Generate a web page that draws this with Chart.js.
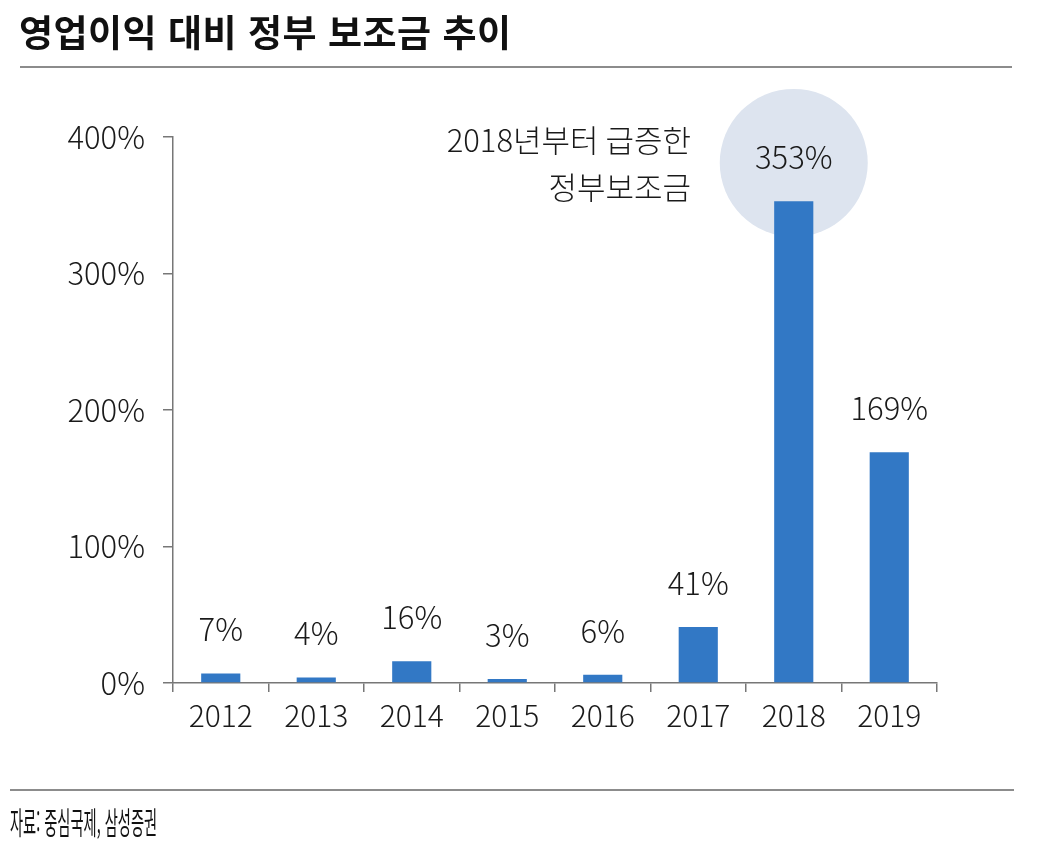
<!DOCTYPE html>
<html lang="ko">
<head>
<meta charset="utf-8">
<script src="https://cdn.jsdelivr.net/npm/chart.js@4"></script>
<style>
  body { margin:0; background:#fff; font-family:"Noto Sans CJK KR", sans-serif; }
  #wrap { position:relative; width:1042px; height:856px; overflow:hidden; }
  #chart { position:absolute; left:0; top:0; }
  .title { position:absolute; left:19px; top:4px; font-size:37px; font-weight:700; color:#111; letter-spacing:0.5px; }
  .rule { position:absolute; height:2px; background:#8c8c8c; }
  .src { position:absolute; left:10px; top:798px; font-size:31px; color:#111; transform:scaleX(0.46); transform-origin:left top; white-space:nowrap; }
</style>
</head>
<body>
<div id="wrap">
  <canvas id="chart" width="1042" height="856"></canvas>
  <div class="title">영업이익 대비 정부 보조금 추이</div>
  <div class="rule" style="left:20px;top:66px;width:992px;"></div>
  <div class="rule" style="left:10px;top:789px;width:1004px;"></div>
  <div class="src">자료: 중심국제, 삼성증권</div>
</div>
<script>
var years = ['2012','2013','2014','2015','2016','2017','2018','2019'];
var ratio = [7, 4, 16, 3, 6, 41, 353, 169];
var yTicks = [0, 100, 200, 300, 400];
var note = ['2018년부터 급증한', '정부보조금'];

var font = '"Noto Sans CJK KR", sans-serif';

// 2018 highlight circle + labels
var extras = {
  id: 'extras',
  beforeDatasetsDraw: function(chart) {
    var ctx = chart.ctx, x = chart.scales.x, y = chart.scales.y;
    ctx.save();
    ctx.fillStyle = '#dde4ef';
    ctx.beginPath();
    ctx.arc(x.getPixelForValue(6), y.getPixelForValue(381), 74, 0, Math.PI * 2);
    ctx.fill();
    ctx.restore();
  },
  afterDatasetsDraw: function(chart) {
    var ctx = chart.ctx, meta = chart.getDatasetMeta(0);
    ctx.save();
    ctx.font = '300 31px ' + font;
    ctx.fillStyle = '#1a1a1a';
    ctx.textAlign = 'center';
    ctx.textBaseline = 'middle';
    meta.data.forEach(function(bar, i) {
      ctx.fillText(ratio[i] + '%', bar.x, bar.y - 44);
    });
    ctx.textAlign = 'right';
    ctx.fillText(note[0], 691, 140);
    ctx.fillText(note[1], 691, 187);
    ctx.restore();
  }
};

var chart = new Chart(document.getElementById('chart').getContext('2d'), {
  type: 'bar',
  data: {
    labels: years,
    datasets: [{
      data: ratio,
      backgroundColor: '#3278c5',
      barPercentage: 0.41,
      categoryPercentage: 1
    }]
  },
  options: {
    responsive: false,
    animation: false,
    devicePixelRatio: 1,
    layout: { padding: { top: 137, right: 105, bottom: 113, left: 0 } },
    plugins: { legend: { display: false }, tooltip: { enabled: false } },
    scales: {
      x: {
        offset: true,
        grid: { offset: true, drawOnChartArea: false, drawTicks: true, tickLength: 9, color: '#777', lineWidth: 1.5 },
        border: { color: '#777', width: 1.5 },
        ticks: { color: '#1a1a1a', font: { family: font, size: 30, weight: '300' }, padding: 6 },
        afterFit: function(s) { s.height = 60; }
      },
      y: {
        min: 0, max: 400,
        afterBuildTicks: function(s) { s.ticks = yTicks.map(function(v) { return { value: v }; }); },
        grid: { drawOnChartArea: false, drawTicks: true, tickLength: 10, color: '#777', lineWidth: 1.5 },
        border: { color: '#777', width: 1.5 },
        ticks: { color: '#1a1a1a', font: { family: font, size: 31, weight: '300' }, padding: 18,
                 callback: function(v) { return v + '%'; } },
        afterFit: function(s) { s.width = 173; }
      }
    }
  },
  plugins: [extras]
});
</script>
</body>
</html>
